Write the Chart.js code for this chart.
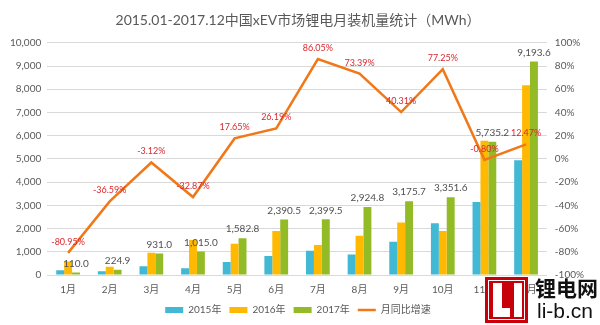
<!DOCTYPE html>
<html>
<head>
<meta charset="utf-8">
<script src="https://cdn.jsdelivr.net/npm/chart.js@4"></script>
<style>
    body { margin: 0; background: #fff; }
    #wrap { position: relative; width: 600px; height: 325px; }
    #logo { position: absolute; left: 485px; top: 277px; width: 43px; height: 46px; background: #c8000a; }
    #logo .frame { position: absolute; left: 3px; top: 3px; right: 3px; bottom: 3px; border: 1.5px solid #fff; }
    #logo .bar { position: absolute; background: #fff; }
    #logoText { position: absolute; left: 535px; top: 275px; font: bold 21px "Noto Sans CJK SC", sans-serif; color: #111; white-space: nowrap; line-height: 24px; }
    #logoUrl { position: absolute; left: 537px; top: 299px; font: 21px "Liberation Sans", sans-serif; color: #111; white-space: nowrap; line-height: 24px; }
</style>
</head>
<body>
<div id="wrap">
    <canvas id="batteryChart" width="600" height="325"></canvas>
    <div id="logo">
        <div class="frame"></div>
        <div class="bar" style="left:8px;top:6px;width:9px;height:34px"></div>
        <div class="bar" style="left:8px;top:31px;width:17px;height:9px"></div>
        <div class="bar" style="left:29px;top:6px;width:8px;height:34px"></div>
    </div>
    <div id="logoText">锂电网</div>
    <div id="logoUrl">li-b.cn</div>
</div>
<script>
const months = ["1月", "2月", "3月", "4月", "5月", "6月", "7月", "8月", "9月", "10月", "11月", "12月"];
const seriesNames = ["2015年", "2016年", "2017年", "月同比增速"];
const sales2015 = [205, 161, 380, 293, 556, 820, 1040, 878, 1435, 2225, 3148, 4943];
const sales2016 = [577.4, 354.7, 961.0, 1512.0, 1345.4, 1894.4, 1289.7, 1686.8, 2263.3, 1890.9, 5781.5, 8174.3];
const sales2017 = [110.0, 224.9, 931.0, 1015.0, 1582.8, 2390.5, 2399.5, 2924.8, 3175.7, 3351.6, 5735.2, 9193.6];
const growthRate = [-80.95, -36.59, -3.12, -32.87, 17.65, 26.19, 86.05, 73.39, 40.31, 77.25, -0.80, 12.47];

const FONT = "Lato, 'Noto Sans CJK SC', sans-serif";
const GREY = "#595959";

document.addEventListener("DOMContentLoaded", function () {
    const ctx = document.getElementById("batteryChart").getContext("2d");

    // labels above the 2017 bars and the growth line
    const valueLabels = {
        id: "valueLabels",
        afterDatasetsDraw(chart) {
            const c = chart.ctx;
            c.save();
            c.textAlign = "center";
            c.textBaseline = "middle";

            const barMeta = chart.getDatasetMeta(2);
            c.fillStyle = "#505050";
            c.font = "10px " + FONT;
            barMeta.data.forEach((el, i) => {
                const txt = sales2017[i].toLocaleString("en-US", { minimumFractionDigits: 1, maximumFractionDigits: 1 });
                c.fillText(txt, el.x, el.y - 9);
            });

            const lineMeta = chart.getDatasetMeta(3);
            c.fillStyle = "#d8282e";
            c.font = "9px " + FONT;
            lineMeta.data.forEach((el, i) => {
                c.fillText(growthRate[i].toFixed(2) + "%", el.x, el.y - 11);
            });
            c.restore();
        }
    };

    const data = {
        labels: months,
        datasets: [
            { type: "bar", label: seriesNames[0], data: sales2015, backgroundColor: "#41b8d4", yAxisID: "y", order: 1 },
            { type: "bar", label: seriesNames[1], data: sales2016, backgroundColor: "#ffb900", yAxisID: "y", order: 1 },
            { type: "bar", label: seriesNames[2], data: sales2017, backgroundColor: "#92bb26", yAxisID: "y", order: 1 },
            {
                type: "line", label: seriesNames[3], data: growthRate, yAxisID: "y1", order: 0,
                borderColor: "#f07818", backgroundColor: "#f07818", borderWidth: 2.5,
                pointRadius: 0, tension: 0
            }
        ]
    };

    const config = {
        type: "bar",
        data: data,
        options: {
            responsive: false,
            animation: false,
            layout: { padding: { left: 4, right: 8, top: 0, bottom: 0 } },
            datasets: {
                bar: { barPercentage: 1, categoryPercentage: 0.57 }
            },
            scales: {
                x: {
                    grid: { display: false },
                    border: { color: "#d9d9d9" },
                    ticks: { color: GREY, font: { size: 10, family: FONT }, padding: 1 }
                },
                y: {
                    position: "left",
                    min: 0,
                    max: 10000,
                    ticks: {
                        stepSize: 1000,
                        color: GREY,
                        font: { size: 10, family: FONT },
                        padding: 6,
                        callback: v => v.toLocaleString("en-US")
                    },
                    grid: { color: "#d9d9d9", drawTicks: false },
                    border: { display: false }
                },
                y1: {
                    position: "right",
                    min: -100,
                    max: 100,
                    ticks: {
                        stepSize: 20,
                        color: GREY,
                        font: { size: 10, family: FONT },
                        padding: 8,
                        callback: v => v + "%"
                    },
                    grid: { display: false, drawTicks: false },
                    border: { display: false }
                }
            },
            plugins: {
                title: {
                    display: true,
                    text: "2015.01-2017.12中国xEV市场锂电月装机量统计（MWh）",
                    color: GREY,
                    font: { size: 14, family: FONT, weight: "normal" },
                    padding: { top: 12, bottom: 14 }
                },
                legend: {
                    position: "bottom",
                    labels: {
                        color: GREY,
                        font: { size: 10, family: FONT },
                        usePointStyle: true,
                        pointStyleWidth: 18,
                        boxHeight: 6,
                        padding: 8,
                        generateLabels: function (chart) {
                            return chart.data.datasets.map((ds, i) => ({
                                text: ds.label,
                                fillStyle: ds.backgroundColor,
                                strokeStyle: ds.type === "line" ? ds.borderColor : ds.backgroundColor,
                                lineWidth: ds.type === "line" ? 2.5 : 0,
                                pointStyle: ds.type === "line" ? "line" : "rect",
                                fontColor: GREY,
                                datasetIndex: i
                            }));
                        }
                    }
                },
                tooltip: { enabled: false }
            }
        },
        plugins: [valueLabels]
    };

    new Chart(ctx, config);
});
</script>
</body>
</html>
